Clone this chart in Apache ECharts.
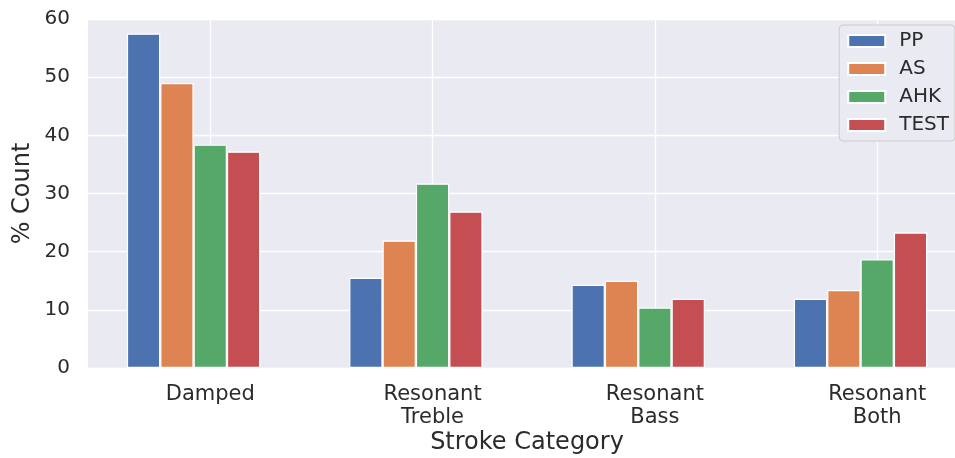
<!DOCTYPE html>
<html>
<head>
<meta charset="utf-8">
<script src="https://cdn.jsdelivr.net/npm/echarts@6/dist/echarts.min.js"></script>
<style>html,body{margin:0;padding:0;background:#fff;}#c{width:955px;height:458px;}</style>
</head>
<body>
<div id="c"></div>
<script>
const categories = ['Damped', 'Resonant\nTreble', 'Resonant\nBass', 'Resonant\nBoth'];
const seriesNames = ['PP', 'AS', 'AHK', 'TEST'];
const ppValues = [57.5, 15.5, 14.3, 11.9];
const asValues = [49.0, 21.9, 15.0, 13.4];
const ahkValues = [38.4, 31.7, 10.4, 18.7];
const testValues = [37.2, 26.9, 11.9, 23.3];
const colors = ['#4C72B0', '#DD8452', '#55A868', '#C44E52'];
const yTicks = [0, 10, 20, 30, 40, 50, 60];

const allValues = [ppValues, asValues, ahkValues, testValues];
const catPositions = categories.map((c, i) => i);
const textColor = '#2b2b2b';
const font = 'DejaVu Sans';

const series = seriesNames.map((name, si) => ({
  name: name,
  type: 'bar',
  z: 2,
  barGap: '0%',
  barCategoryGap: '25%',
  itemStyle: { color: colors[si], borderColor: '#ffffff', borderWidth: 1.2 },
  data: allValues[si].map((v, i) => [catPositions[i], v])
}));

// empty slot so the group sits like pandas' layout (3rd bar centred on tick)
series.push({
  name: 'slot',
  type: 'bar',
  barGap: '0%',
  barCategoryGap: '25%',
  silent: true,
  data: catPositions.map(p => [p, null])
});

// vertical grid lines at category ticks (behind bars)
series.push({
  name: 'grid-x',
  type: 'line',
  z: 1,
  data: [],
  silent: true,
  markLine: {
    silent: true,
    z: 1,
    symbol: ['none', 'none'],
    label: { show: false },
    animation: false,
    lineStyle: { color: '#ffffff', type: 'solid', width: 1.3 },
    data: catPositions.map(p => ({ xAxis: p }))
  }
});

const chart = echarts.init(document.getElementById('c'));
chart.setOption({
  animation: false,
  backgroundColor: '#ffffff',
  grid: {
    left: 88, right: 0, top: 19, bottom: 90,
    outerBoundsMode: 'none',
    containLabel: false,
    show: true, backgroundColor: '#EAEAF2', borderWidth: 0
  },
  legend: {
    orient: 'vertical',
    right: 0, top: 25,
    data: seriesNames,
    itemWidth: 37, itemHeight: 12, itemGap: 8,
    icon: 'rect',
    padding: [6, 6, 6, 8],
    backgroundColor: '#EAEAF2',
    borderColor: '#cccccc', borderWidth: 1, borderRadius: 4,
    textStyle: { fontFamily: font, fontSize: 20, lineHeight: 20, color: textColor, padding: [0, 0, 0, 9] }
  },
  xAxis: {
    type: 'value',
    min: -0.55,
    max: 3.35,
    name: 'Stroke Category',
    nameLocation: 'middle',
    nameGap: 63,
    nameMoveOverlap: false,
    nameTextStyle: { fontFamily: font, fontSize: 24, color: textColor, padding: [0, 0, 0, 11] },
    axisLine: { show: false },
    axisTick: { show: false },
    splitLine: { show: false },
    axisLabel: {
      customValues: catPositions,
      formatter: v => categories[Math.round(v)] || '',
      fontFamily: font, fontSize: 21, lineHeight: 23, color: textColor, margin: 15
    }
  },
  yAxis: {
    type: 'value',
    min: 0, max: 60, interval: 10,
    name: '% Count',
    nameLocation: 'middle',
    nameGap: 53,
    nameMoveOverlap: false,
    nameTextStyle: { fontFamily: font, fontSize: 24, color: textColor },
    axisLine: { show: false },
    axisTick: { show: false },
    splitLine: { show: true, lineStyle: { color: '#ffffff', width: 1.3 } },
    axisLabel: { fontFamily: font, fontSize: 20, color: textColor, margin: 18,
      formatter: v => String(v) }
  },
  series: series
});
</script>
</body>
</html>
